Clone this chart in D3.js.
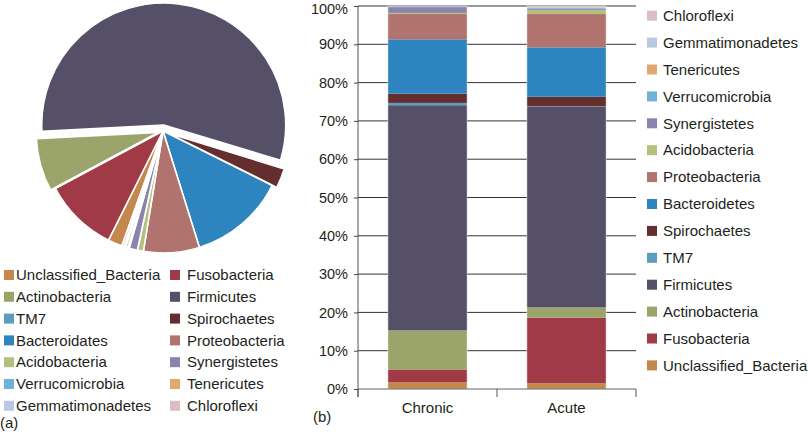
<!DOCTYPE html>
<html>
<head>
<meta charset="utf-8">
<script src="https://cdn.jsdelivr.net/npm/d3@7"></script>
<style>
  html, body { margin: 0; padding: 0; background: #fff; }
  svg { display: block; font-family: "Liberation Sans", Arial, Helvetica, sans-serif; }
</style>
</head>
<body>
<svg id="chart" width="808" height="432"></svg>
<script>
// ---- data ----
const phyla = ["Unclassified_Bacteria","Fusobacteria","Actinobacteria","Firmicutes","TM7","Spirochaetes",
  "Bacteroidetes","Proteobacteria","Acidobacteria","Synergistetes","Verrucomicrobia","Tenericutes",
  "Gemmatimonadetes","Chloroflexi"];
const pieLegendLabels = ["Unclassified_Bacteria","Fusobacteria","Actinobacteria","Firmicutes","TM7","Spirochaetes",
  "Bacteroidates","Proteobacteria","Acidobacteria","Synergistetes","Verrucomicrobia","Tenericutes",
  "Gemmatimonadetes","Chloroflexi"];
const colors = ["#c4874e","#a03a46","#9ba56b","#555068","#5b9cc1","#642d2e",
  "#2d84be","#b0736d","#b5c07f","#8a83ad","#70b2d7","#e0a870","#b9c9e1","#d9bfc2"];
const pieValues = [1.9, 9.8, 7.0, 55.5, 0.1, 2.6, 12.8, 7.4, 0.8, 1.1, 0.2, 0.3, 0.2, 0.3];
const pieExploded = ["Actinobacteria","Firmicutes","Spirochaetes"];
const categories = ["Chronic","Acute"];
const chronicValues = [1.8, 3.3, 10.2, 58.8, 0.6, 2.4, 14.2, 6.6, 0.3, 1.5, 0.1, 0.1, 0.05, 0.05];
const acuteValues   = [1.5, 17.1, 2.7, 52.4, 0.1, 2.5, 12.9, 8.7, 1.1, 0.3, 0.2, 0.1, 0.2, 0.2];
const yTicks = [0,10,20,30,40,50,60,70,80,90,100];

const svg = d3.select("#chart");
const textColor = "#231f20";
const color = d3.scaleOrdinal().domain(phyla).range(colors);

// ---- pie (a) ----
const cx = 163, cy = 131, r = 122;
const pieData = phyla.map((p, i) => ({ name: p, value: pieValues[i] }));
const startA = 199.7 * Math.PI / 180;
const pie = d3.pie().sort(null).value(d => d.value).startAngle(startA).endAngle(startA + 2 * Math.PI);
const arc = d3.arc().innerRadius(0).outerRadius(r);
const explodeDist = { "Firmicutes": 6, "Actinobacteria": 5, "Spirochaetes": 5 };
svg.append("g").attr("transform", `translate(${cx},${cy})`)
  .selectAll("path").data(pie(pieData)).join("path")
  .attr("d", arc)
  .attr("fill", d => color(d.data.name))
  .attr("stroke", "#fff").attr("stroke-width", 1.6).attr("stroke-linejoin", "round")
  .attr("transform", d => {
    if (!pieExploded.includes(d.data.name)) return null;
    const m = (d.startAngle + d.endAngle) / 2, k = explodeDist[d.data.name];
    return `translate(${Math.sin(m) * k},${-Math.cos(m) * k})`;
  });

// pie legend (two columns, row-wise)
const pl = svg.append("g");
phyla.forEach((p, i) => {
  const col = i % 2, row = Math.floor(i / 2);
  const x = col === 0 ? 4 : 170, y = 275 + row * 21.8;
  pl.append("rect").attr("x", x).attr("y", y - 5).attr("width", 10).attr("height", 10).attr("fill", color(p));
  pl.append("text").attr("x", x + (col === 0 ? 12 : 17)).attr("y", y).attr("dy", "0.35em")
    .attr("font-size", 15).attr("fill", textColor).text(pieLegendLabels[i]);
});
svg.append("text").attr("x", 0).attr("y", 423).attr("dy", "0.35em").attr("font-size", 15)
  .attr("fill", textColor).text("(a)");

// ---- stacked bars (b) ----
const x0 = 358, x1 = 636, yTop = 6, yBot = 389;
const x = d3.scaleBand().domain(categories).range([x0, x1]).paddingInner(0.43).paddingOuter(0.215);
const y = d3.scaleLinear().domain([0, 100]).range([yBot, yTop]);

// gridlines
svg.append("g").selectAll("line").data(yTicks.filter(t => t > 0)).join("line")
  .attr("x1", x0).attr("x2", x1).attr("y1", d => y(d)).attr("y2", d => y(d))
  .attr("stroke", "#333").attr("stroke-width", 1);

const rows = categories.map((c, ci) => {
  const o = { cat: c };
  const vals = ci === 0 ? chronicValues : acuteValues;
  phyla.forEach((p, i) => o[p] = vals[i]);
  return o;
});
const series = d3.stack().keys(phyla)(rows);
svg.append("g").selectAll("g").data(series).join("g")
  .attr("fill", d => color(d.key))
  .selectAll("rect").data(d => d).join("rect")
  .attr("x", d => x(d.data.cat)).attr("width", x.bandwidth())
  .attr("y", d => y(d[1])).attr("height", d => Math.max(0, y(d[0]) - y(d[1])));
// faint light outline of bars
svg.append("g").selectAll("rect").data(categories).join("rect")
  .attr("x", d => x(d)).attr("width", x.bandwidth())
  .attr("y", y(100)).attr("height", y(0) - y(100))
  .attr("fill", "none").attr("stroke", "rgba(255,255,255,0.45)").attr("stroke-width", 1);

// y axis
const yAxis = svg.append("g").attr("transform", `translate(${x0},0)`)
  .call(d3.axisLeft(y).tickValues(yTicks).tickFormat(d => d + "%").tickSize(4).tickPadding(6));
yAxis.select(".domain").attr("stroke", "#555").attr("d", `M0,${yTop}V${yBot + 8}`);
yAxis.selectAll(".tick line").attr("stroke", "#444");
yAxis.selectAll(".tick text").attr("font-size", 14.5).attr("fill", textColor)
  .attr("font-family", "'Liberation Sans', Arial, sans-serif")
  .attr("dy", d => d === 100 ? "0.5em" : "0.32em");

// x axis
const xb = svg.append("g");
xb.append("line").attr("x1", x0).attr("x2", x1).attr("y1", yBot).attr("y2", yBot).attr("stroke", "#666");
const step = x.step();
const boundaries = [x0].concat(categories.map(c => x(c) + x.bandwidth() + x.paddingInner() * step / 2));
boundaries[boundaries.length - 1] = x1;
xb.selectAll("line.t").data(boundaries).join("line").attr("class", "t")
  .attr("x1", d => d).attr("x2", d => d).attr("y1", yBot).attr("y2", yBot + 8).attr("stroke", "#555");
xb.selectAll("text").data(categories).join("text")
  .attr("x", d => x(d) + x.bandwidth() / 2).attr("y", 408).attr("dy", "0.35em")
  .attr("text-anchor", "middle").attr("font-size", 15).attr("fill", textColor).text(d => d);
svg.append("text").attr("x", 313).attr("y", 417).attr("dy", "0.35em").attr("font-size", 15)
  .attr("fill", textColor).text("(b)");

// right legend (reversed order)
const rl = svg.append("g");
phyla.slice().reverse().forEach((p, i) => {
  const yy = 15.7 + i * 26.9;
  rl.append("rect").attr("x", 647).attr("y", yy - 5).attr("width", 10).attr("height", 10).attr("fill", color(p));
  rl.append("text").attr("x", 663).attr("y", yy).attr("dy", "0.35em").attr("font-size", 15)
    .attr("fill", textColor).text(p);
});
</script>
</body>
</html>
